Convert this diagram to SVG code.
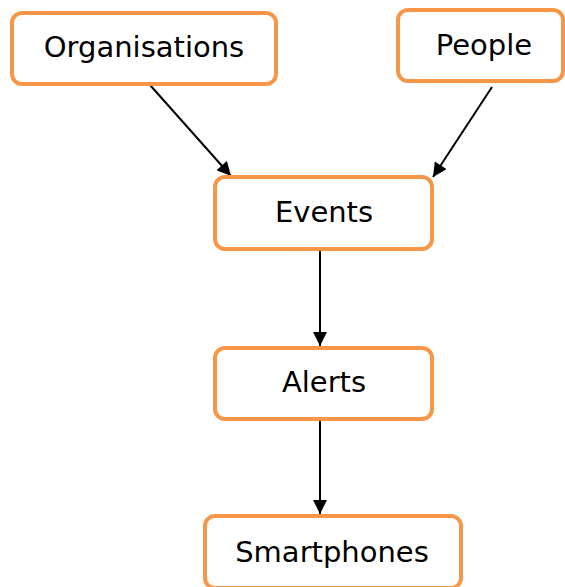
<svg xmlns="http://www.w3.org/2000/svg" width="565" height="587" viewBox="0 0 565 587">
<defs>
<style>
.box{fill:#ffffff;stroke:#f79646;stroke-width:4}
.lbl{font-family:"DejaVu Sans",Verdana,sans-serif;font-size:29px;fill:#000;text-anchor:middle;dominant-baseline:central}
.conn{stroke:#000;stroke-width:2;fill:none;marker-end:url(#ah)}
</style>
<marker id="ah" viewBox="0 0 10 10" refX="10" refY="5" markerWidth="7.5" markerHeight="7" orient="auto" markerUnits="strokeWidth">
<path d="M0,0 L10,5 L0,10 z" fill="#000"/>
</marker>
</defs>
<rect width="565" height="587" fill="#ffffff"/>
<g id="connectors">
<line class="conn" x1="150" y1="85" x2="231" y2="176"/>
<line class="conn" x1="492" y1="87" x2="433" y2="177"/>
<line class="conn" x1="320" y1="248" x2="320" y2="346"/>
<line class="conn" x1="320" y1="419" x2="320" y2="514"/>
</g>
<g id="organisations">
<rect class="box" x="12" y="13" width="264" height="71" rx="10"/>
<text class="lbl" x="144" y="47">Organisations</text>
</g>
<g id="people">
<rect class="box" x="398" y="10" width="165" height="71" rx="10"/>
<text class="lbl" x="484" y="45">People</text>
</g>
<g id="events">
<rect class="box" x="215" y="177" width="217" height="72" rx="10"/>
<text class="lbl" x="324" y="212">Events</text>
</g>
<g id="alerts">
<rect class="box" x="215" y="348" width="217" height="71" rx="10"/>
<text class="lbl" x="324" y="382">Alerts</text>
</g>
<g id="smartphones">
<rect class="box" x="205" y="516" width="256" height="72" rx="10"/>
<text class="lbl" x="332" y="552">Smartphones</text>
</g>
</svg>
